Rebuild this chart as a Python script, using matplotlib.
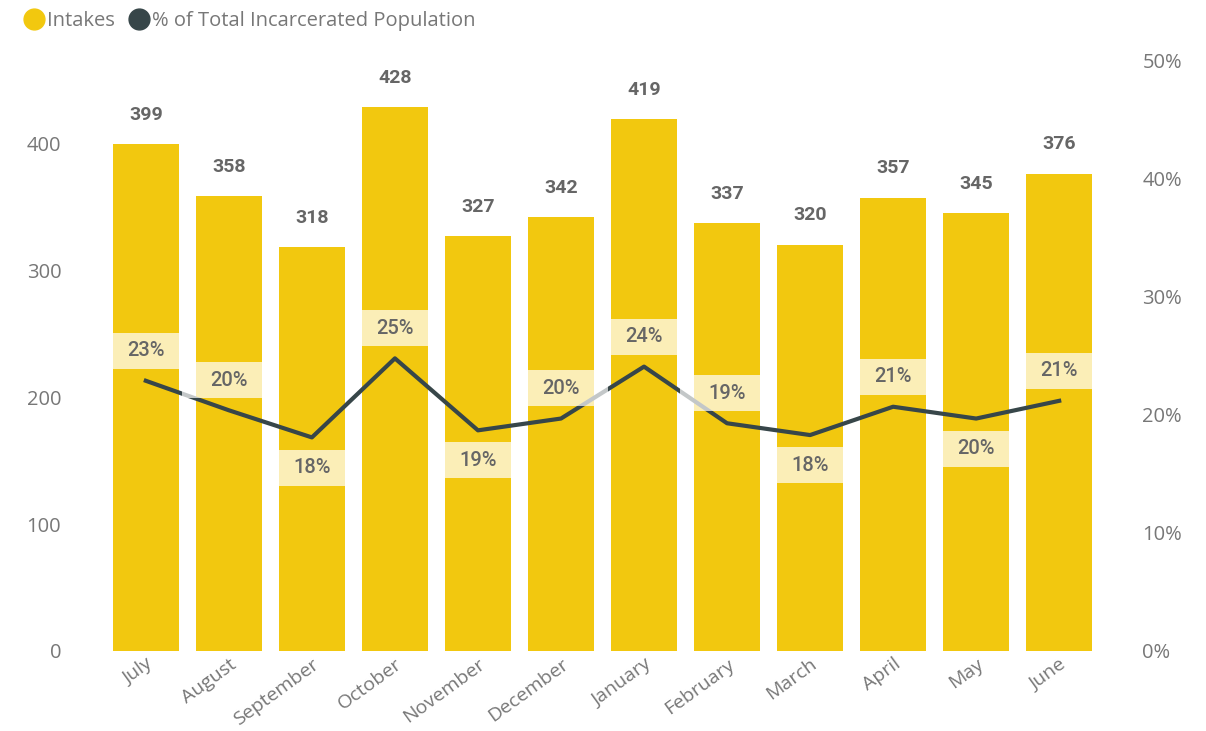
import matplotlib.pyplot as plt
from matplotlib.patches import Rectangle
from matplotlib.lines import Line2D
from matplotlib.transforms import ScaledTranslation
import numpy as np

months = ['July', 'August', 'September', 'October', 'November', 'December',
          'January', 'February', 'March', 'April', 'May', 'June']
intakes = [399, 358, 318, 428, 327, 342, 419, 337, 320, 357, 345, 376]
pct_total = [0.229, 0.204, 0.181, 0.248, 0.187, 0.197, 0.241, 0.193, 0.183, 0.207, 0.197, 0.212]
# label above (+1) or below (-1) the line point
label_side = [1, 1, -1, 1, -1, 1, 1, 1, -1, 1, -1, 1]

BAR = '#F2C80F'
LINE = '#374649'
TICK = '#777777'
LAB = '#666666'

plt.rcParams['font.family'] = ['Open Sans', 'DejaVu Sans']

fig = plt.figure(figsize=(12.06, 7.31), dpi=100)
ax = fig.add_axes([96 / 1206, 1 - 651 / 731, (1109 - 96) / 1206, (651 - 61) / 731])
ax2 = ax.twinx()

x = np.arange(len(months))
ax.bar(x, intakes, width=0.8, color=BAR, zorder=1)
ax.set_xlim(-0.6, len(months) - 0.4)
ax.set_ylim(0, 464.6)
ax2.set_ylim(0, 0.5)

for xi, v in zip(x, intakes):
    ax.annotate(str(v), (xi, v), xytext=(0, 21), textcoords='offset points',
                ha='center', va='center', fontsize=14, fontweight='semibold',
                color=LAB, family='Roboto')

ax2.plot(x, pct_total, color=LINE, lw=3, zorder=2)

for xi, p, s in zip(x, pct_total, label_side):
    yc = p + s * 0.0255
    h = 0.0305
    ax2.add_patch(Rectangle((xi - 0.565, yc - h / 2), 1.13, h, facecolor='white',
                            alpha=0.7, edgecolor='none', zorder=3))
    ax2.text(xi, yc, f'{round(p * 100):.0f}%', ha='center', va='center',
             fontsize=14.5, color=LAB, family='Roboto', fontweight='medium', zorder=4)

ax.set_yticks([0, 100, 200, 300, 400])
ax2.set_yticks([0, 0.1, 0.2, 0.3, 0.4, 0.5])
ax2.set_yticklabels([f'{int(t * 100)}%' for t in ax2.get_yticks()])
ax.set_xticks(x)
ax.set_xticklabels(months, rotation=36, ha='right', rotation_mode='anchor')
shift = ScaledTranslation(-5 / 100, 0, fig.dpi_scale_trans)
for lbl in ax.get_xticklabels():
    lbl.set_transform(lbl.get_transform() + shift)

for a in (ax, ax2):
    for sp in a.spines.values():
        sp.set_visible(False)
ax.tick_params(axis='y', length=0, pad=25, labelsize=14.5, labelcolor=TICK)
ax2.tick_params(axis='y', length=0, pad=24, labelsize=14.5, labelcolor=TICK)
ax.tick_params(axis='x', length=0, pad=3, labelsize=14, labelcolor=TICK)

handles = [Line2D([], [], marker='o', ls='', color=BAR, markersize=15),
           Line2D([], [], marker='o', ls='', color=LINE, markersize=15)]
fig.legend(handles, ['Intakes', '% of Total Incarcerated Population'],
           loc='upper left', bbox_to_anchor=(0.005, 1.01), ncol=2, frameon=False,
           handletextpad=0.15, columnspacing=0.7, fontsize=14.5, labelcolor=TICK,
           handlelength=1.0)

fig.savefig('out.png', dpi=100)
